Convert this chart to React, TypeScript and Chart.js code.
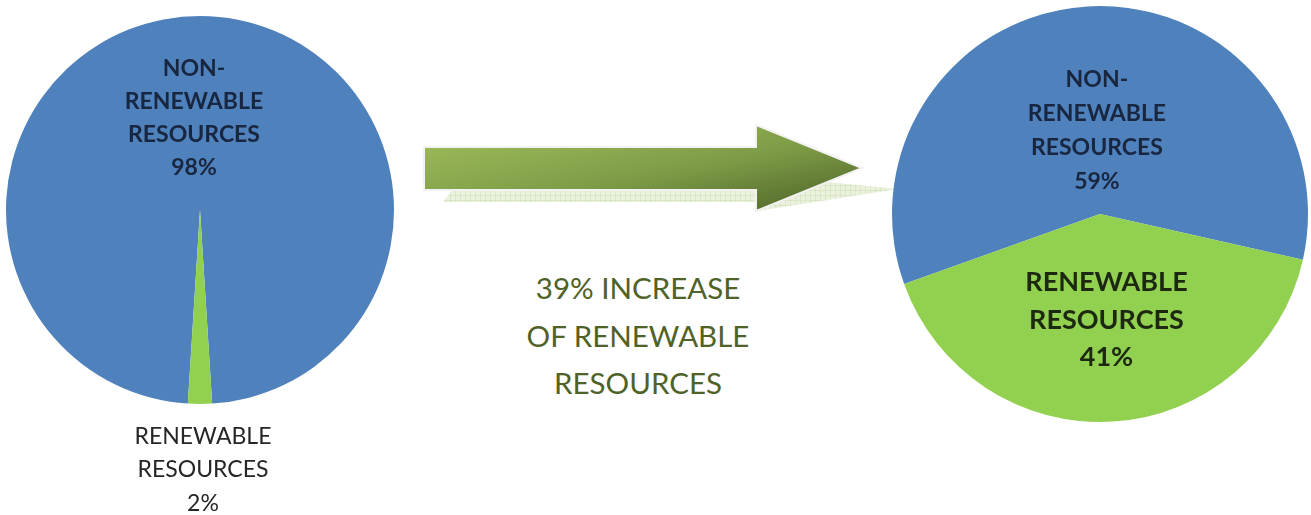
import React, { useEffect, useRef } from "react";
import { Chart, registerables } from "chart.js";

Chart.register(...registerables);

// ---- data ----
const categories = ["NON-RENEWABLE RESOURCES", "RENEWABLE RESOURCES"];
const categoryLines = [
  ["NON-", "RENEWABLE", "RESOURCES"],
  ["RENEWABLE", "RESOURCES"],
];
const beforeValues = [98, 2];
const afterValues = [59, 41];
const captionLines = ["39% INCREASE", "OF RENEWABLE", "RESOURCES"];

// ---- styles ----
const BLUE = "#4F81BD";
const GREEN = "#92D050";
const FONT = "Lato, 'Open Sans', sans-serif";

const pieLabelPlugin = {
  id: "pieLabels",
  afterDatasetsDraw(chart: any, _args: any, opts: any) {
    const ctx = chart.ctx;
    const meta = chart.getDatasetMeta(0);
    const values = chart.data.datasets[0].data as number[];
    meta.data.forEach((arc: any, i: number) => {
      const p = arc.getProps(["x", "y", "startAngle", "endAngle", "outerRadius"], true);
      const mid = (p.startAngle + p.endAngle) / 2;
      const d = p.outerRadius * opts.fractions[i];
      const cx = p.x + Math.cos(mid) * d + (opts.dx ? opts.dx[i] : 0);
      const cy = p.y + Math.sin(mid) * d;
      const lines = [...categoryLines[i], `${values[i]}%`];
      const lh = opts.lineHeights[i];
      ctx.save();
      ctx.font = opts.fonts[i];
      ctx.fillStyle = opts.colors[i];
      ctx.textAlign = "center";
      ctx.textBaseline = "middle";
      const top = cy - ((lines.length - 1) * lh) / 2;
      lines.forEach((t, k) => ctx.fillText(t, cx, top + k * lh));
      ctx.restore();
    });
  },
};

function PieChart(props: {
  values: number[];
  rotation: number;
  width: number;
  height: number;
  padding: any;
  labelOpts: any;
  style: React.CSSProperties;
}) {
  const ref = useRef<HTMLCanvasElement>(null);
  useEffect(() => {
    if (!ref.current) return;
    const chart = new Chart(ref.current, {
      type: "pie",
      data: {
        labels: categories,
        datasets: [
          {
            data: props.values,
            backgroundColor: [BLUE, GREEN],
            borderWidth: 0,
          },
        ],
      },
      options: {
        animation: false,
        responsive: false,
        rotation: props.rotation,
        layout: { padding: props.padding },
        plugins: {
          legend: { display: false },
          tooltip: { enabled: false },
          pieLabels: props.labelOpts,
        } as any,
      },
      plugins: [pieLabelPlugin],
    });
    return () => chart.destroy();
  }, []);
  return (
    <canvas
      ref={ref}
      width={props.width}
      height={props.height}
      style={{ position: "absolute", width: props.width, height: props.height, ...props.style }}
    />
  );
}

function Arrow() {
  return (
    <svg
      width={500}
      height={140}
      style={{ position: "absolute", left: 410, top: 110 }}
      viewBox="410 110 500 140"
    >
      <defs>
        <linearGradient id="arrowGrad" x1="0" y1="0" x2="1" y2="1" gradientUnits="objectBoundingBox">
          <stop offset="0" stopColor="#A2C05C" />
          <stop offset="0.55" stopColor="#7E9C47" />
          <stop offset="1" stopColor="#4B6126" />
        </linearGradient>
        <pattern id="grid" width="5" height="5" patternUnits="userSpaceOnUse">
          <rect width="5" height="5" fill="#EAF1DC" />
          <path d="M5 0 L0 0 0 5" fill="none" stroke="#CFDDB4" strokeWidth="1" />
        </pattern>
      </defs>
      <polygon
        points="452,190 757,190 757,175 898,189 757,211 757,202 443,202"
        fill="url(#grid)"
      />
      <polygon
        points="424,147 756,147 756,125 862,168 756,211 756,190 424,190"
        fill="url(#arrowGrad)"
        stroke="#F2F2F2"
        strokeWidth={2}
        strokeLinejoin="miter"
      />
    </svg>
  );
}

export default function App() {
  return (
    <div
      style={{
        position: "fixed",
        left: 0,
        top: 0,
        width: 1311,
        height: 515,
        background: "#fff",
        overflow: "hidden",
      }}
    >
      <PieChart
        values={beforeValues}
        rotation={183.6}
        width={410}
        height={515}
        padding={{ left: 6, top: 16, right: 16, bottom: 111 }}
        style={{ left: 0, top: 0 }}
        labelOpts={{
          fractions: [0.474, 1.34],
          dx: [-6, 3],
          lineHeights: [33, 33.5],
          fonts: [`bold 23px ${FONT}`, `23px ${FONT}`],
          colors: ["#18263F", "#262626"],
        }}
      />
      <Arrow />
      <div
        style={{
          position: "absolute",
          left: 488,
          top: 264,
          width: 300,
          textAlign: "center",
          fontFamily: FONT,
          fontSize: 29.5,
          lineHeight: "47.5px",
          color: "#4F6228",
        }}
      >
        {captionLines.map((t, i) => (
          <div key={i}>{t}</div>
        ))}
      </div>
      <PieChart
        values={afterValues}
        rotation={250.3}
        width={431}
        height={515}
        padding={{ left: 12, top: 6, right: 3, bottom: 93 }}
        style={{ left: 880, top: 0 }}
        labelOpts={{
          fractions: [0.4, 0.51],
          dx: [2, 0],
          lineHeights: [34, 37.5],
          fonts: [`bold 23px ${FONT}`, `bold 27px ${FONT}`],
          colors: ["#18263F", "#1C2910"],
        }}
      />
    </div>
  );
}
